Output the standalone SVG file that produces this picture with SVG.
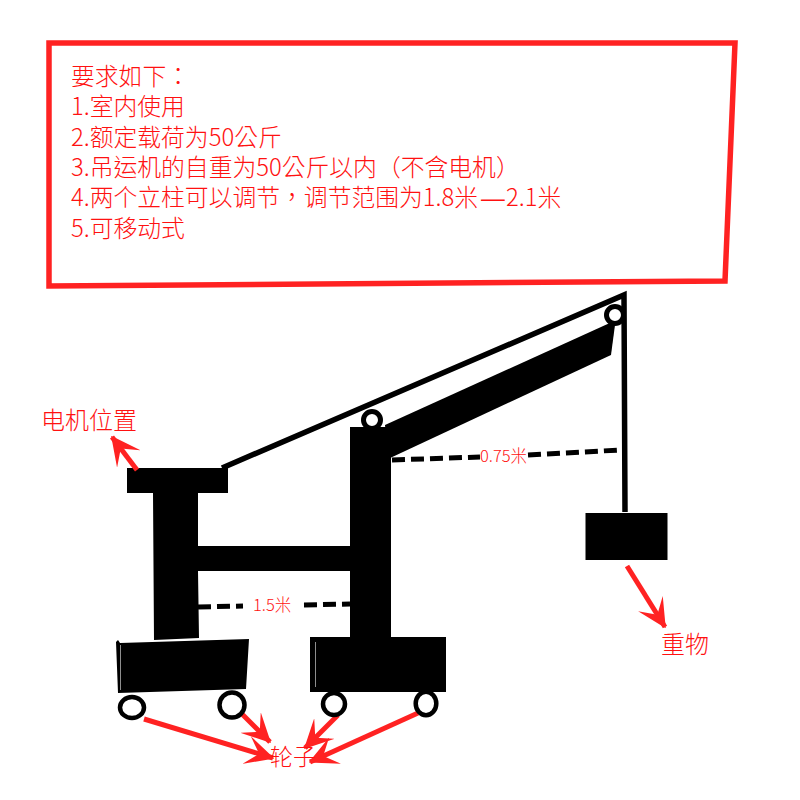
<svg xmlns="http://www.w3.org/2000/svg" width="800" height="800" viewBox="0 0 800 800">
<style>
.t{font-family:"Noto Sans CJK TC","Noto Sans CJK SC","Liberation Sans",sans-serif;fill:#f11;font-weight:300;font-kerning:none;text-spacing-trim:space-all;font-feature-settings:"palt" 0,"chws" 0}
.r{stroke:#f22;fill:none;stroke-linejoin:miter}
.k{stroke:#000;fill:none}
.d{stroke:#000;fill:none;stroke-width:5}
.w{stroke:#000;fill:#fff}
</style>
<defs>
<marker id="a" viewBox="0 0 20 20" refX="19" refY="10" markerWidth="29" markerHeight="29" markerUnits="userSpaceOnUse" orient="auto"><path d="M0 0L20 10L0 20L9 10Z" fill="#f22"/></marker>
</defs>
<rect width="800" height="800" fill="#fff"/>
<g id="req">
<path class="r" stroke-width="5.500" d="M49 43H735L725 281L49 286Z"/>
<g class="t" font-size="23.800">
<text x="71" y="85">要求如下：</text>
<text x="71" y="115">1.室内使用</text>
<text x="71" y="146">2.额定载荷为50公斤</text>
<text x="71" y="176">3.吊运机的自重为50公斤以内（不含电机）</text>
<text x="71" y="206">4.两个立柱可以调节，调节范围为1.8米<tspan font-family="Liberation Sans" x="481">—</tspan><tspan x="506">2.1米</tspan></text>
<text x="71" y="237">5.可移动式</text>
</g>
</g>
<g id="crane">
<path d="M127 468H228V493H198L198 546H350V427H391V637H446V692H310V637H350V571H198L199 638L154 640L153 493H127Z" fill="#000"/>
<path d="M385 425L612 322L615 325L611 355L388 459Z" fill="#000"/>
<path d="M116 642L118 640L120 643L249 639L246 689L118 693Z" fill="#000"/>
<path d="M120.500 645V690M315.500 642V687" stroke="#ccc" stroke-width="0.700" fill="none"/>
</g>
<g id="connectors">
<path class="k" stroke-width="5.500" d="M222 468L624 295L625 512"/>
<path class="d" stroke-dasharray="13 6" d="M392 460L480 457M528 455L620 450"/>
<path class="d" stroke-dasharray="13 6" d="M198 607L243 606M304 605L350 604"/>
<path class="r" stroke-width="5" marker-end="url(#a)" d="M137 470L112 437"/>
<path class="r" stroke-width="5" marker-end="url(#a)" d="M627 566L665 627"/>
<path class="r" stroke-width="5" marker-end="url(#a)" d="M144 719L273 758"/>
<path class="r" stroke-width="5" marker-end="url(#a)" d="M242 714L270 742"/>
<path class="r" stroke-width="5" marker-end="url(#a)" d="M338 715L305 748"/>
<path class="r" stroke-width="5" marker-end="url(#a)" d="M418 713L310 762"/>
</g>
<g id="pulley1"><circle class="w" stroke-width="5" cx="372" cy="420" r="8.500"/></g>
<g id="pulley2"><circle class="w" stroke-width="5" cx="615" cy="315" r="8.500"/></g>
<g id="load"><rect x="585.500" y="513" width="82" height="47" fill="#000"/></g>
<g id="wheel1"><ellipse class="w" stroke-width="4.500" cx="132" cy="707.500" rx="12" ry="10.500"/></g>
<g id="wheel2"><circle class="w" stroke-width="4.500" cx="232" cy="705" r="12.500"/></g>
<g id="wheel3"><circle class="w" stroke-width="4.500" cx="334" cy="704" r="11"/></g>
<g id="wheel4"><ellipse class="w" stroke-width="4.500" cx="426" cy="703.500" rx="10.300" ry="11.800"/></g>
<g id="labels" class="t">
<text x="41" y="429" font-size="24">电机位置</text>
<text x="661" y="653" font-size="24">重物</text>
<text x="270" y="765" font-size="23">轮子</text>
<text x="480" y="462" font-size="16.500">0.75米</text>
<text x="253" y="611" font-size="16.500">1.5米</text>
</g>
</svg>
